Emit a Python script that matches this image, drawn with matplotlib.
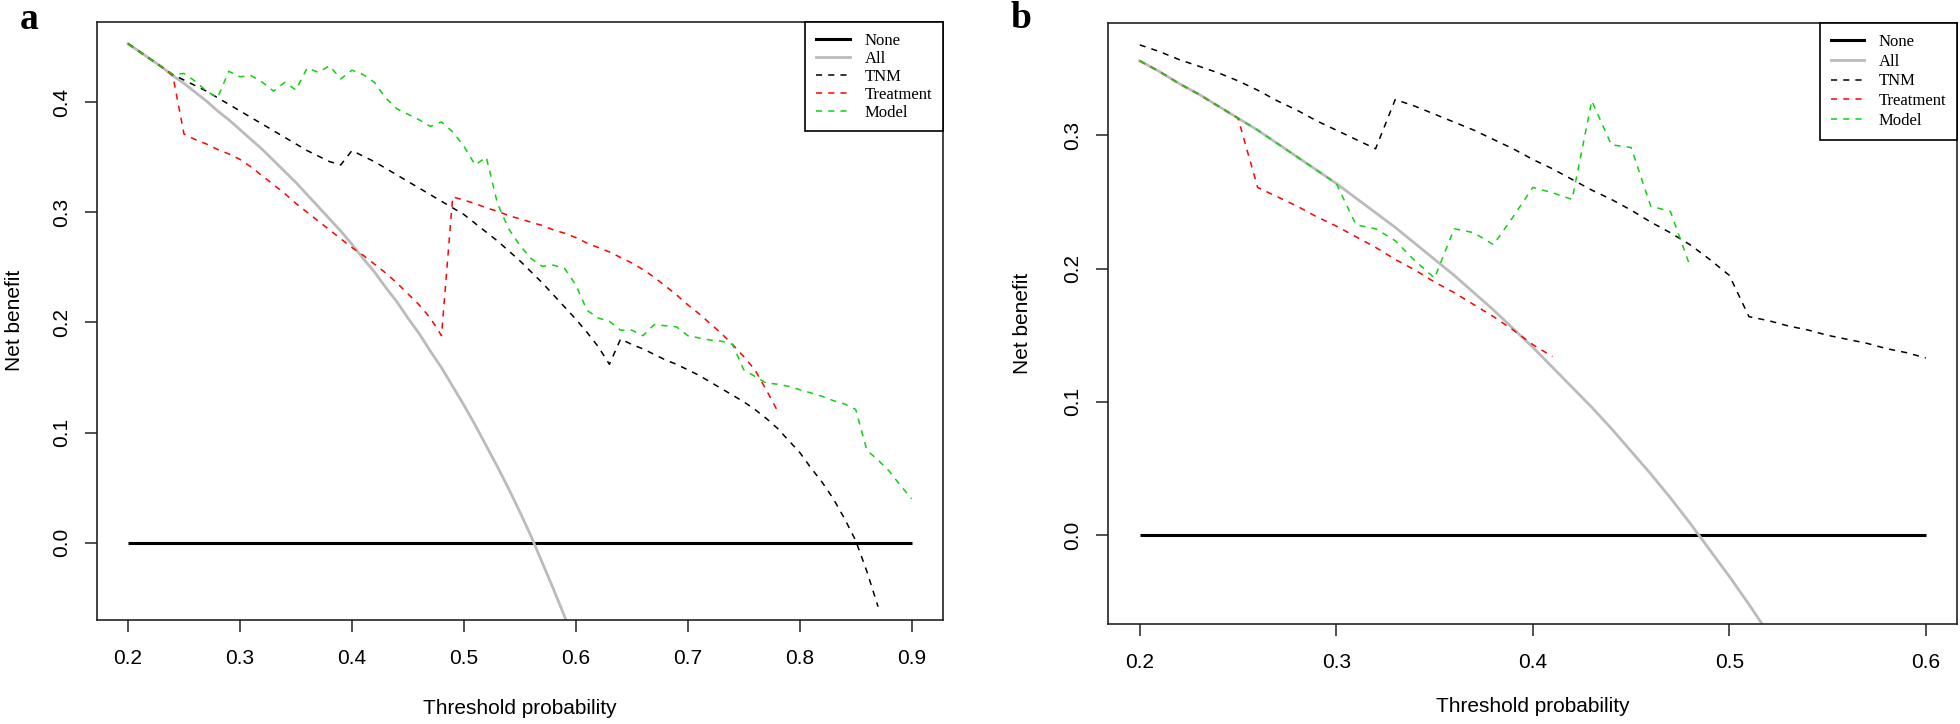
import numpy as np
import matplotlib
matplotlib.use("Agg")
import matplotlib.pyplot as plt
from matplotlib.lines import Line2D

# ---------------- data ----------------
# thresholds start at 0.20 with step 0.01 for every series
x_start = 0.20
x_step = 0.01

a_none_x = [0.2, 0.9]
a_all = [0.453, 0.446, 0.439, 0.432, 0.424, 0.417, 0.409, 0.401, 0.392, 0.384,
         0.375, 0.366, 0.357, 0.347, 0.337, 0.327, 0.316, 0.305, 0.294, 0.283,
         0.271, 0.258, 0.246, 0.232, 0.219, 0.204, 0.190, 0.174, 0.159, 0.142,
         0.125, 0.107, 0.088, 0.069, 0.049, 0.028, 0.006, -0.018, -0.042, -0.067,
         -0.094]
a_tnm = [0.453, 0.446, 0.439, 0.432, 0.425, 0.420, 0.415, 0.410, 0.404, 0.398,
         0.392, 0.386, 0.380, 0.374, 0.368, 0.362, 0.356, 0.351, 0.346, 0.343,
         0.356, 0.351, 0.346, 0.340, 0.334, 0.328, 0.322, 0.316, 0.310, 0.304,
         0.298, 0.290, 0.282, 0.274, 0.265, 0.256, 0.246, 0.236, 0.225, 0.214,
         0.203, 0.191, 0.178, 0.162, 0.185, 0.180, 0.176, 0.171, 0.166, 0.162,
         0.157, 0.152, 0.146, 0.140, 0.134, 0.128, 0.121, 0.113, 0.104, 0.093,
         0.082, 0.068, 0.055, 0.040, 0.022, 0.002, -0.026, -0.058]
a_treatment = [0.453, 0.446, 0.439, 0.432, 0.424, 0.371, 0.366, 0.362, 0.357, 0.353,
               0.348, 0.341, 0.333, 0.325, 0.317, 0.308, 0.300, 0.292, 0.284, 0.276,
               0.268, 0.261, 0.253, 0.245, 0.236, 0.226, 0.216, 0.204, 0.188, 0.314,
               0.311, 0.308, 0.304, 0.301, 0.297, 0.294, 0.291, 0.288, 0.284, 0.281,
               0.277, 0.272, 0.268, 0.264, 0.259, 0.254, 0.248, 0.241, 0.233, 0.225,
               0.216, 0.208, 0.199, 0.190, 0.180, 0.169, 0.157, 0.139, 0.120]
a_model = [0.453, 0.446, 0.439, 0.432, 0.425, 0.426, 0.419, 0.410, 0.404, 0.428,
           0.423, 0.424, 0.418, 0.410, 0.418, 0.411, 0.431, 0.427, 0.433, 0.421,
           0.429, 0.425, 0.418, 0.404, 0.394, 0.389, 0.384, 0.378, 0.382, 0.373,
           0.360, 0.343, 0.350, 0.308, 0.285, 0.270, 0.258, 0.251, 0.252, 0.249,
           0.234, 0.211, 0.204, 0.201, 0.193, 0.193, 0.188, 0.198, 0.197, 0.196,
           0.188, 0.186, 0.184, 0.183, 0.180, 0.157, 0.151, 0.145, 0.144, 0.142,
           0.139, 0.136, 0.133, 0.129, 0.126, 0.121, 0.084, 0.075, 0.065, 0.052,
           0.040]

b_none_x = [0.2, 0.6]
b_all = [0.356, 0.348, 0.339, 0.331, 0.322, 0.313, 0.304, 0.294, 0.284, 0.274,
         0.264, 0.253, 0.242, 0.231, 0.219, 0.207, 0.195, 0.182, 0.169, 0.155,
         0.141, 0.126, 0.111, 0.096, 0.080, 0.063, 0.046, 0.028, 0.009, -0.011,
         -0.031, -0.052, -0.074]
b_tnm = [0.368, 0.363, 0.357, 0.352, 0.347, 0.341, 0.334, 0.326, 0.319, 0.311,
         0.304, 0.297, 0.290, 0.327, 0.322, 0.316, 0.310, 0.304, 0.297, 0.290,
         0.282, 0.275, 0.267, 0.259, 0.252, 0.244, 0.235, 0.227, 0.218, 0.207,
         0.195, 0.164, 0.161, 0.157, 0.154, 0.150, 0.147, 0.144, 0.140, 0.137,
         0.133]
b_treatment = [0.356, 0.348, 0.339, 0.331, 0.322, 0.313, 0.261, 0.254, 0.247, 0.239,
               0.232, 0.224, 0.216, 0.207, 0.199, 0.190, 0.182, 0.173, 0.164, 0.154,
               0.143, 0.134]
b_model = [0.356, 0.348, 0.339, 0.331, 0.322, 0.313, 0.304, 0.294, 0.284, 0.274,
           0.264, 0.233, 0.230, 0.221, 0.206, 0.193, 0.230, 0.227, 0.218, 0.239,
           0.261, 0.257, 0.252, 0.326, 0.293, 0.291, 0.247, 0.243, 0.202]

a_xticks = [0.2, 0.3, 0.4, 0.5, 0.6, 0.7, 0.8, 0.9]
a_yticks = [0.0, 0.1, 0.2, 0.3, 0.4]
b_xticks = [0.2, 0.3, 0.4, 0.5, 0.6]
b_yticks = [0.0, 0.1, 0.2, 0.3]
legend_labels = ["None", "All", "TNM", "Treatment", "Model"]

# ---------------- style ----------------
SANS = ["Liberation Sans", "DejaVu Sans"]
SERIF = ["Liberation Serif", "DejaVu Serif"]
C_ALL = "#BBBBBB"
C_RED = "#FF0000"
C_GREEN = "#10D010"
DASH = (0, (4, 4))
LW_D = 1.1


def xs(vals):
    return x_start + x_step * np.arange(len(vals))


fig = plt.figure(figsize=(19.6, 7.24), dpi=100)
W, H = 1960, 724


def make_ax(left, right, top, bottom):
    return fig.add_axes([left / W, 1 - bottom / H, (right - left) / W, (bottom - top) / H])


def draw(ax, none_x, s_all, s_tnm, s_treat, s_model, xlim, ylim, xticks, yticks,
         ylab_x, xlab_y, lspacing):
    ax.plot(none_x, [0, 0], color="black", lw=2.2, solid_capstyle="butt")
    ax.plot(xs(s_all), s_all, color=C_ALL, lw=2.0)
    ax.plot(xs(s_tnm), s_tnm, color="black", lw=LW_D, linestyle=DASH)
    ax.plot(xs(s_treat), s_treat, color=C_RED, lw=LW_D, linestyle=DASH)
    ax.plot(xs(s_model), s_model, color=C_GREEN, lw=LW_D, linestyle=DASH)
    ax.set_xlim(*xlim)
    ax.set_ylim(*ylim)
    ax.set_xticks(xticks)
    ax.set_xticklabels([f"{t:.1f}" for t in xticks], fontfamily=SANS, fontsize=15)
    ax.set_yticks(yticks)
    ax.set_yticklabels([f"{t:.1f}" for t in yticks], fontfamily=SANS, fontsize=15,
                       rotation=90, va="center")
    ax.tick_params(axis="both", direction="out", length=8.6, width=1.1, color="#222222")
    ax.tick_params(axis="x", pad=12)
    ax.tick_params(axis="y", pad=10)
    for sp in ax.spines.values():
        sp.set_linewidth(1.2)
        sp.set_color("#222222")
    ax.set_xlabel("Threshold probability", fontfamily=SANS, fontsize=15)
    ax.set_ylabel("Net benefit", fontfamily=SANS, fontsize=15)
    ax.xaxis.set_label_coords(0.5, xlab_y)
    ax.yaxis.set_label_coords(ylab_x, 0.5)
    ax.yaxis.label.set_va("center")
    ax.xaxis.label.set_va("center")
    handles = [
        Line2D([], [], color="black", lw=2.2),
        Line2D([], [], color=C_ALL, lw=2.0),
        Line2D([], [], color="black", lw=LW_D, linestyle=DASH),
        Line2D([], [], color=C_RED, lw=LW_D, linestyle=DASH),
        Line2D([], [], color=C_GREEN, lw=LW_D, linestyle=DASH),
    ]
    leg = ax.legend(handles, legend_labels, loc="upper right", borderaxespad=0,
                    prop={"family": SERIF, "size": 12}, fancybox=False,
                    framealpha=1, edgecolor="black", borderpad=0.65,
                    labelspacing=lspacing, handlelength=2.0, handletextpad=0.9)
    leg.get_frame().set_linewidth(1.2)


ax_a = make_ax(96.7, 943, 21.7, 620)
draw(ax_a, a_none_x, a_all, a_tnm, a_treatment, a_model,
     (0.172, 0.928), (-0.0701, 0.473), a_xticks, a_yticks,
     (15 - 96.7) / 846.3, -(708 - 620) / 598.3, 0.12)

ax_b = make_ax(1108.3, 1957.3, 23.3, 624)
draw(ax_b, b_none_x, b_all, b_tnm, b_treatment, b_model,
     (0.184, 0.616), (-0.0667, 0.3842), b_xticks, b_yticks,
     (1022 - 1108.3) / 849.0, -(706 - 624) / 600.7, 0.22)

fig.text(20 / W, 1 - 29 / H, "a", fontfamily=SERIF, fontweight="bold", fontsize=27,
         va="baseline", ha="left")
fig.text(1010.7 / W, 1 - 28 / H, "b", fontfamily=SERIF, fontweight="bold", fontsize=27,
         va="baseline", ha="left")

fig.savefig("out.png", dpi=100, facecolor="white")
